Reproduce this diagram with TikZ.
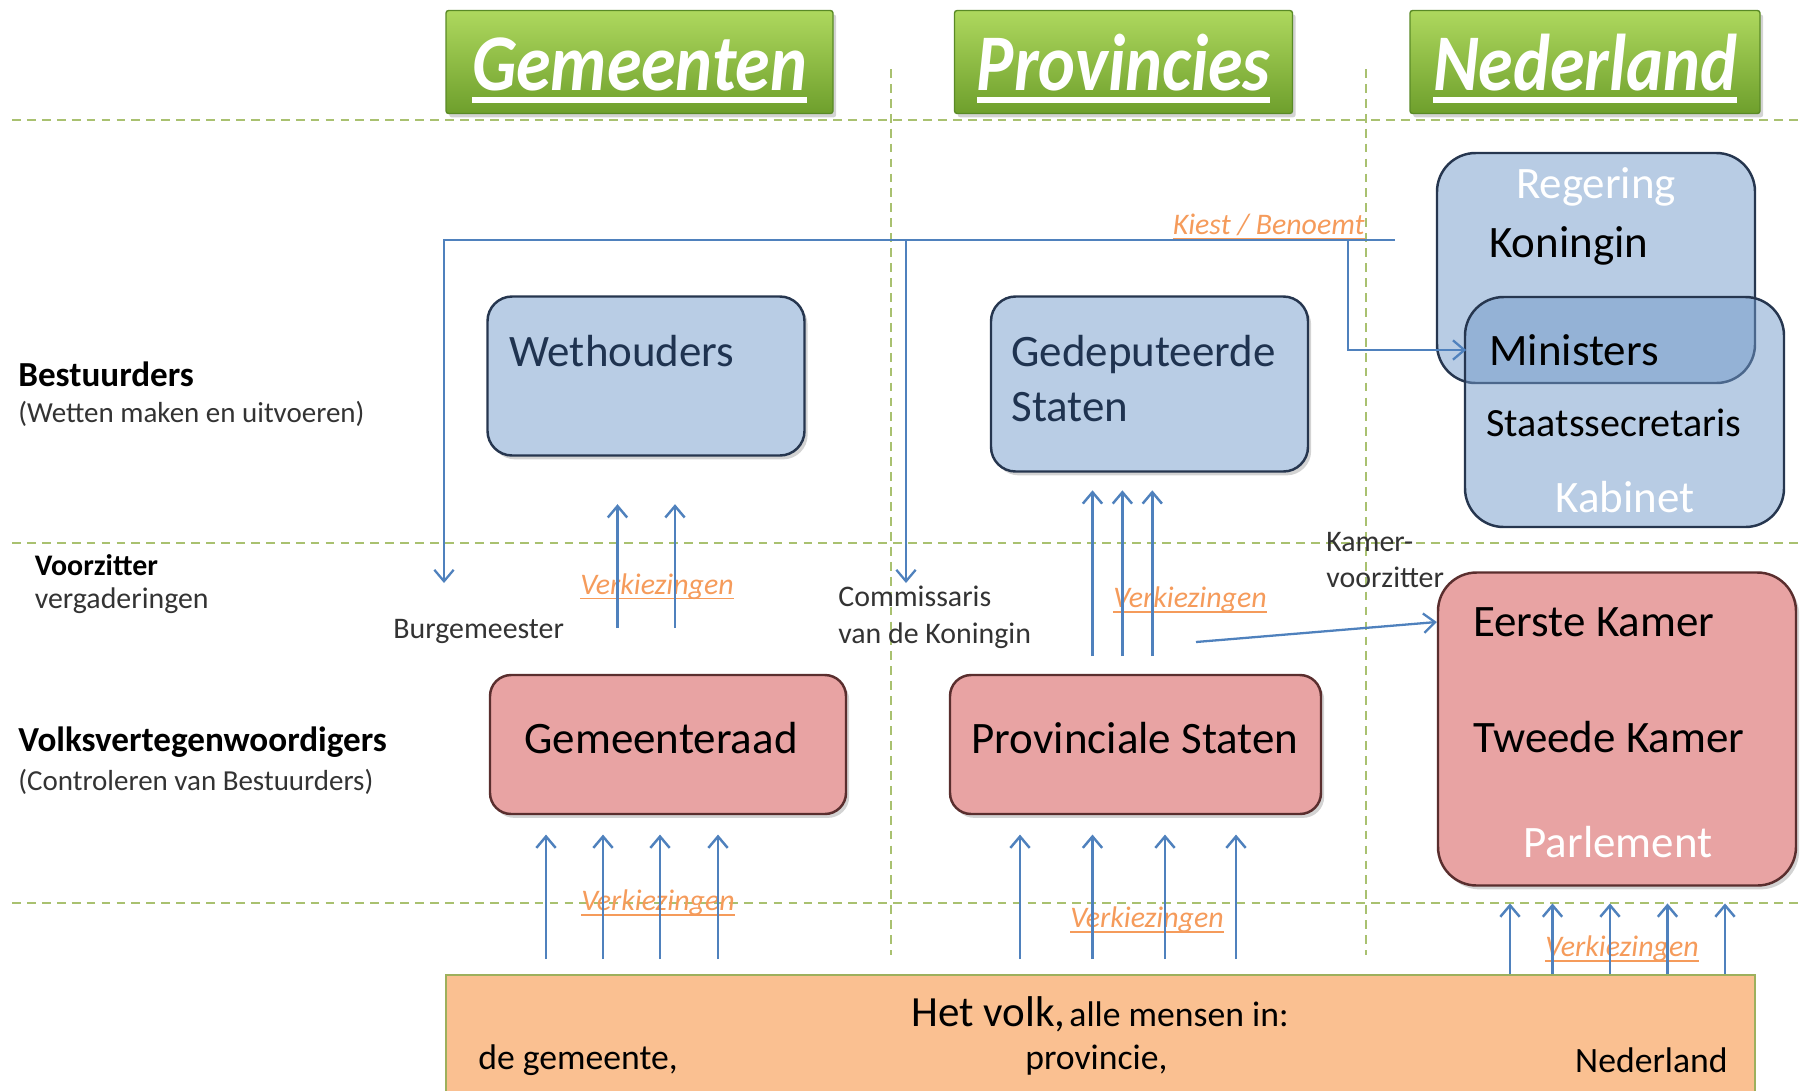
\documentclass[tikz,border=0pt]{standalone}
\usepackage{fontspec}
\setmainfont{Carlito}
\usetikzlibrary{shadows,arrows.meta}

\definecolor{kopgroenlicht}{HTML}{AED85E}
\definecolor{kopgroendonker}{HTML}{6E9F2C}
\definecolor{kopgroenrand}{HTML}{5A8A26}
\definecolor{blauwvak}{HTML}{B9CDE5}
\definecolor{blauwdoorzicht}{HTML}{7199C9}
\definecolor{blauwrand}{HTML}{26364F}
\definecolor{blauwtekst}{HTML}{1F3350}
\definecolor{roodvak}{HTML}{E8A3A3}
\definecolor{roodrand}{HTML}{5A2E2E}
\definecolor{volkvak}{HTML}{FAC091}
\definecolor{volkrand}{HTML}{9DB05C}
\definecolor{stippel}{HTML}{A9C170}
\definecolor{pijl}{HTML}{4F81BD}
\definecolor{oranje}{HTML}{F59B5B}
\definecolor{grijstekst}{HTML}{333333}

\newlength\pxu
\setlength\pxu{0.02cm}
\newcommand\streep[2][0.06em]{\setbox0\hbox{#2}\rlap{\rule[-0.16em]{\wd0}{#1}}\box0}
\newcommand\kop[1]{\raisebox{-5pt}[0.7em][0.15em]{\scalebox{1}[1.15]{\streep[0.07em]{#1}}}}

\newcommand\kopfont{\fontsize{39.8}{44}\selectfont\bfseries\itshape}
\newcommand\vakfont{\fontsize{25.6}{31}\selectfont}
\newcommand\staatsfont{\fontsize{22.8}{27}\selectfont}
\newcommand\zijkopfont{\fontsize{20}{24}\selectfont\bfseries}
\newcommand\zijsubfont{\fontsize{16.5}{20}\selectfont}
\newcommand\lblfont{\fontsize{17}{21}\selectfont}
\newcommand\verkfont{\fontsize{17}{21}\selectfont\itshape}
\newcommand\volkfont{\fontsize{20.3}{24}\selectfont}
\newcommand\volkgrootfont{\fontsize{24.5}{29}\selectfont}

\begin{document}
\begin{tikzpicture}[x=0.02cm, y=-0.02cm,
    >={Straight Barb[length=6.5pt,width=11pt]},
    schaduw/.style={drop shadow={shadow xshift=1.8pt, shadow yshift=-2.2pt, opacity=0.35}},
    kopvak/.style={draw=kopgroenrand, line width=0.8pt, top color=kopgroenlicht,
        bottom color=kopgroendonker, rounded corners=1.5pt, minimum height=103*\pxu,
        text=white, font=\kopfont, schaduw},
    blauw/.style={draw=blauwrand, line width=1.4pt, fill=blauwvak, rounded corners=14pt, schaduw},
    doorzicht/.style={draw=blauwrand, line width=1.4pt, fill=blauwdoorzicht, fill opacity=0.5,
        rounded corners=22pt},
    rood/.style={draw=roodrand, line width=1.4pt, fill=roodvak, rounded corners=12pt, schaduw},
    volkbalk/.style={draw=volkrand, line width=1pt, fill=volkvak},
    stippellijn/.style={draw=stippel, line width=1pt, dash pattern=on 5pt off 3.5pt},
    stem/.style={->, draw=pijl, line width=1.4pt},
    link/.style={draw=pijl, line width=1.3pt},
    tekst/.style={inner sep=0pt},
    vak/.style={tekst, font=\vakfont},
    zijkop/.style={tekst, font=\zijkopfont, anchor=west},
    zijsub/.style={tekst, font=\zijsubfont, text=grijstekst, anchor=west},
    lbl/.style={tekst, font=\lblfont, text=grijstekst, anchor=west, align=left},
    verk/.style={tekst, font=\verkfont, text=oranje}]
\useasboundingbox (0,0) rectangle (1803,1090);

\draw[stippellijn] (12,120) -- (1803,120);
\draw[stippellijn] (12,543) -- (1803,543);
\draw[stippellijn] (12,903) -- (1803,903);
\draw[stippellijn] (891,69) -- (891,955);
\draw[stippellijn] (1366,69) -- (1366,955);

\node[kopvak, minimum width=387*\pxu] (gemeenten) at (639.5,62) {\kop{Gemeenten}};
\node[kopvak, minimum width=338*\pxu] (provincies) at (1123.5,62) {\kop{Provincies}};
\node[kopvak, minimum width=350*\pxu] (nederland) at (1585,62) {\kop{Nederland}};

\node[zijkop] (bestuurders) at (18,374) {Bestuurders};
\node[zijsub] (bestuurderssub) at (18,414) {(Wetten maken en uitvoeren)};
\node[zijkop, font=\lblfont\bfseries] (voorzitter) at (34.5,565) {Voorzitter};
\node[zijsub, font=\lblfont] (vergaderingen) at (34.5,601) {vergaderingen};
\node[zijkop] (volksvert) at (18,742) {Volksvertegenwoordigers};
\node[zijsub] (volksvertsub) at (18,782) {(Controleren van Bestuurders)};

\node[blauw, minimum width=317*\pxu, minimum height=159*\pxu] (wethouders) at (646,376) {};
\node[vak, text=blauwtekst, anchor=west] (wethtekst) at (509,351) {Wethouders};
\node[blauw, minimum width=317*\pxu, minimum height=175*\pxu] (gedeputeerden) at (1149.5,384) {};
\node[vak, text=blauwtekst, anchor=west, align=left] (gedetekst) at (1011,378.5) {Gedeputeerde\\Staten};

\node[doorzicht, minimum width=318*\pxu, minimum height=230*\pxu] (regering) at (1596,268) {};
\node[doorzicht, minimum width=319*\pxu, minimum height=230*\pxu] (kabinet) at (1624.5,412) {};
\node[vak, text=white] (regtekst) at (1596,187) {Regering};
\node[vak, anchor=west] (koningin) at (1489,246) {Koningin};
\node[vak, anchor=west] (ministers) at (1489,350) {Ministers};
\node[vak, font=\staatsfont, anchor=west] (staats) at (1486,423) {Staatssecretaris};
\node[vak, text=white] (kabtekst) at (1625,497) {Kabinet};

\node[rood, minimum width=356*\pxu, minimum height=139*\pxu] (gemeenteraad) at (668,744.5) {};
\node[vak] (raadtekst) at (661,738) {Gemeenteraad};
\node[rood, minimum width=371*\pxu, minimum height=139*\pxu] (provstaten) at (1135.5,744.5) {};
\node[vak] (provtekst) at (1135,738) {Provinciale Staten};
\node[rood, rounded corners=22pt, minimum width=358*\pxu, minimum height=313*\pxu] (parlement) at (1617,729) {};
\node[vak, anchor=west] (eerstekamer) at (1473,622) {Eerste Kamer};
\node[vak, anchor=west] (tweedekamer) at (1473,737) {Tweede Kamer};
\node[vak, text=white] (parltekst) at (1618,842) {Parlement};

\node[volkbalk, minimum width=1309*\pxu, minimum height=125*\pxu] (volk) at (1100.5,1037.5) {};
\node[tekst] (volktekst) at (1100,1014) {{\volkgrootfont Het volk,} {\volkfont alle mensen in:}};
\node[tekst, font=\volkfont, anchor=west] (volkgemeente) at (478,1060) {de gemeente,};
\node[tekst, font=\volkfont, anchor=west] (volkprovincie) at (1025,1060) {provincie,};
\node[tekst, font=\volkfont, anchor=east] (volknederland) at (1728,1060) {Nederland};

\node[lbl] (burgemeester) at (393,631) {Burgemeester};
\node[lbl] (commissaris) at (838,617.5) {Commissaris\\van de Koningin};
\node[lbl] (kamervoorzitter) at (1326,560) {Kamer-\\voorzitter};

\foreach \naam/\x/\y in {vkweth/657/586.5, vkgede/1190/600, vkraad/658/903, vkprov/1147/920, vkparl/1622/949}
    \node[verk] (\naam) at (\x,\y) {\streep[0.05em]{Verkiezingen}};
\node[verk, anchor=east] (kiestlabel) at (1365,227) {\streep[0.05em]{Kiest / Benoemt}};

\foreach \x in {546,603,660,718}
    \draw[stem, shorten <=8.5pt, shorten >=11pt] (volk.north -| \x,0) -- (gemeenteraad.south -| \x,0);
\foreach \x in {1020,1092.5,1165,1236}
    \draw[stem, shorten <=8.5pt, shorten >=11pt] (volk.north -| \x,0) -- (provstaten.south -| \x,0);
\foreach \x in {1510,1552.5,1610,1667.5,1725}
    \draw[stem, shorten >=9.5pt] (volk.north -| \x,0) -- (parlement.south -| \x,0);
\foreach \x in {617.5,675}
    \draw[stem, shorten <=26pt, shorten >=27pt] (gemeenteraad.north -| \x,0) -- (wethouders.south -| \x,0);
\foreach \x in {1092.5,1122.4,1152.3}
    \draw[stem, shorten <=10pt, shorten >=10pt] (provstaten.north -| \x,0) -- (gedeputeerden.south -| \x,0);

\coordinate (kiest) at (1395,240);
\coordinate (splitsing) at (1348,240);
\coordinate (burgpunt) at (444,583);
\coordinate (commpunt) at (906,583);
\coordinate (kamerpunt) at (1196,642);
\draw[link, ->] (kiest) -| (burgpunt);
\draw[link, ->] (kiest -| commpunt) -- (commpunt);
\draw[link, ->, shorten >=13pt] (splitsing) |- (ministers.west);
\draw[link, ->] (kamerpunt) -- (parlement.west |- eerstekamer.west);
\end{tikzpicture}
\end{document}
